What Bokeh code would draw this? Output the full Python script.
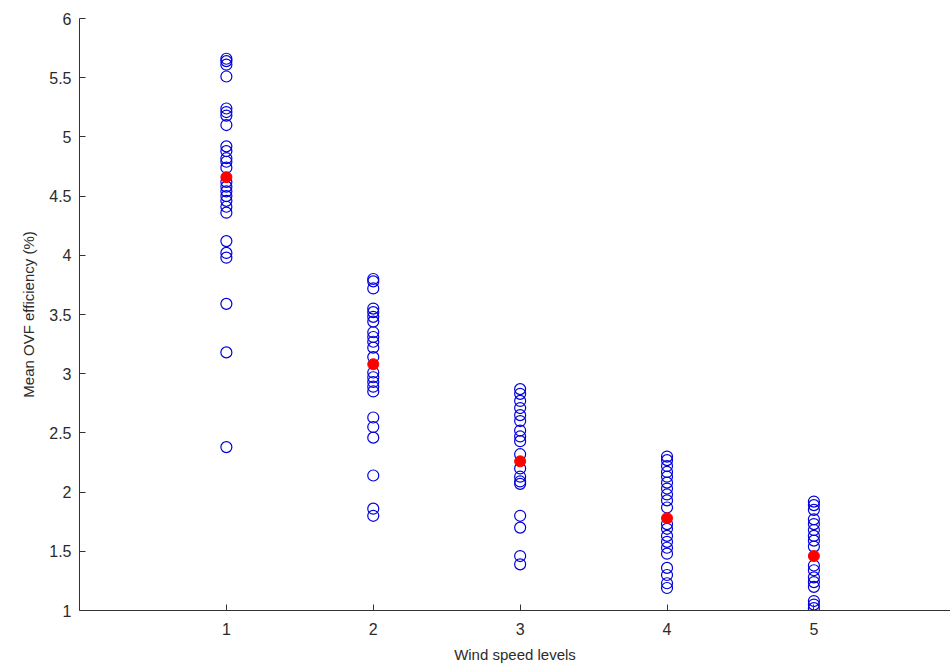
from bokeh.plotting import figure
from bokeh.models import Range1d, FixedTicker, LinearAxis
from bokeh.embed import file_html
from bokeh.resources import INLINE

# ---- data ----
level1 = [5.66, 5.64, 5.61, 5.51, 5.24, 5.21, 5.18, 5.10, 4.92, 4.88, 4.82, 4.79, 4.74,
          4.62, 4.58, 4.54, 4.50, 4.46, 4.41, 4.36, 4.12, 4.02, 3.98, 3.59, 3.18, 2.38]
level2 = [3.80, 3.78, 3.72, 3.55, 3.52, 3.48, 3.44, 3.35, 3.31, 3.27, 3.22, 3.14, 3.01,
          2.97, 2.93, 2.89, 2.85, 2.63, 2.55, 2.46, 2.14, 1.86, 1.80]
level3 = [2.87, 2.83, 2.77, 2.71, 2.65, 2.60, 2.52, 2.47, 2.43, 2.32, 2.20, 2.13, 2.09,
          2.07, 1.80, 1.70, 1.46, 1.39]
level4 = [2.30, 2.27, 2.22, 2.17, 2.13, 2.08, 2.03, 1.98, 1.93, 1.87, 1.73, 1.69, 1.63,
          1.58, 1.53, 1.48, 1.36, 1.30, 1.23, 1.19]
level5 = [1.92, 1.89, 1.85, 1.77, 1.73, 1.68, 1.63, 1.59, 1.54, 1.38, 1.34, 1.28, 1.24,
          1.20, 1.08, 1.05, 1.02]
levels = [1, 2, 3, 4, 5]
means = [4.66, 3.08, 2.26, 1.78, 1.46]

x_ticks = [1, 2, 3, 4, 5]
y_ticks = [1, 1.5, 2, 2.5, 3, 3.5, 4, 4.5, 5, 5.5, 6]
y_tick_labels = ["1", "1.5", "2", "2.5", "3", "3.5", "4", "4.5", "5", "5.5", "6"]

FONT = "Liberation Sans"
TXT = "#2b2b2b"

p = figure(width=950, height=671, output_backend="svg", toolbar_location=None,
           x_range=Range1d(0, 5.93), y_range=Range1d(1, 6),
           x_axis_location=None, y_axis_location=None,
           min_border_left=79, min_border_right=0, min_border_top=18, min_border_bottom=61)
p.outline_line_color = None
p.xgrid.visible = False
p.ygrid.visible = False
p.background_fill_color = "white"
p.border_fill_color = "white"

xs, ys = [], []
for lv, vals in zip(levels, [level1, level2, level3, level4, level5]):
    xs += [lv] * len(vals)
    ys += vals
p.scatter(xs, ys, marker="circle", size=11, fill_color=None,
          line_color="#0000dd", line_width=1.2)
p.scatter(levels, means, marker="circle", size=11, fill_color="#ff0000",
          line_color="#ff0000")

xaxis = LinearAxis(ticker=FixedTicker(ticks=x_ticks), axis_label="Wind speed levels")
yaxis = LinearAxis(ticker=FixedTicker(ticks=y_ticks), axis_label="Mean OVF efficiency (%)")
yaxis.major_label_overrides = {t: s for t, s in zip(y_ticks, y_tick_labels)}
for ax in (xaxis, yaxis):
    ax.major_tick_in = 6
    ax.major_tick_out = 0
    ax.minor_tick_in = 0
    ax.minor_tick_out = 0
    ax.axis_line_color = "#333333"
    ax.major_tick_line_color = "#333333"
    ax.major_label_text_font = FONT
    ax.major_label_text_font_size = "16px"
    ax.major_label_text_color = TXT
    ax.axis_label_text_font = FONT
    ax.axis_label_text_font_size = "15px"
    ax.axis_label_text_font_style = "normal"
    ax.axis_label_text_color = TXT
xaxis.major_label_standoff = 12
xaxis.axis_label_standoff = 8
yaxis.major_label_standoff = 8
yaxis.axis_label_standoff = 9
p.add_layout(xaxis, "below")
p.add_layout(yaxis, "left")

open("out.html", "w").write(file_html(p, INLINE))
